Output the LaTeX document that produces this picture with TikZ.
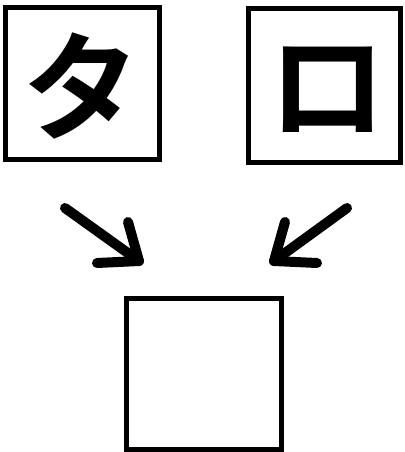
\documentclass[tikz,border=0pt]{standalone}
\usepackage{fontspec}
\newfontfamily\cjk{Noto Sans CJK JP}[BoldFont={Noto Sans CJK JP Bold}]
\begin{document}
\begin{tikzpicture}[x=1pt,y=-1pt,
  boxst/.style={draw=black, line width=5pt, inner sep=0pt, fill=white},
  glyph/.style={font=\cjk\bfseries\fontsize{118}{118}\selectfont},
  arr/.style={draw=black, line width=10pt, line cap=round, line join=round}]
\useasboundingbox[fill=white] (0,0) rectangle (404,452);
\node[boxst, minimum width=154pt, minimum height=152pt] (ta) at (82.5,83.5) {};
\node[glyph] (tachar) at (82,86) {タ};
\node[boxst, minimum width=152pt, minimum height=154pt] (ro) at (324.5,85.5) {};
\node[glyph] (rochar) at (327,90) {ロ};
\node[boxst, minimum width=155pt, minimum height=151pt] (res) at (204,374) {};
% left arrow
\coordinate (ltail) at (65,208);
\coordinate (ltip) at (139,261);
\coordinate (lb1) at (128,222);
\coordinate (lb2) at (97,263);
\draw[arr] (ltail) -- (ltip);
\draw[arr] (lb1) -- (ltip) -- (lb2);
% right arrow
\coordinate (rtail) at (347,208);
\coordinate (rtip) at (274,261);
\coordinate (rb1) at (285,222);
\coordinate (rb2) at (317,263);
\draw[arr] (rtail) -- (rtip);
\draw[arr] (rb1) -- (rtip) -- (rb2);
\end{tikzpicture}
\end{document}
